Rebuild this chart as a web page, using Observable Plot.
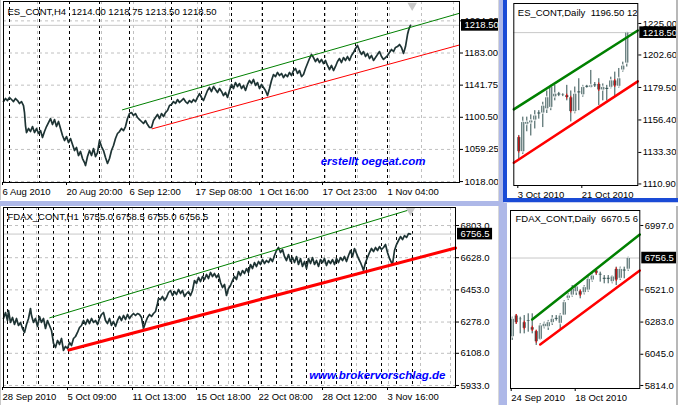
<!DOCTYPE html>
<html><head><meta charset="utf-8">
<script src="https://cdn.jsdelivr.net/npm/d3@7"></script>
<script src="https://cdn.jsdelivr.net/npm/@observablehq/plot@0.6"></script>
<style>
body{margin:0;background:#fff;}
#wrap{position:relative;width:678px;height:405px;overflow:hidden;background:#fff;}
.chrome{position:absolute;}
</style></head><body><div id="wrap"></div>
<script>
// ---------- ES_CONT H4 (top-left) ----------
const esH4Bar = [0,2,4,6,8,10,12,14,16,18,20,21,22,23,25,27,29,31,33,35,37,39,41,43,45,47,49,51,53,55,57,59,61,63,65,67,69,71,73,75,77,79,81,82,84,86,88,90,92,94,96,98,100,102,104,106,108,110,112,114,116,118,120,122,124,126,128,130,132,134,136,138,140,142,144,146,148,150,152,154,156,158,160,162,164,166,168,170,172,174,176,178,180,182,184,186,188,190,192,194,196,198,200,202,204,206,208,210,212,214,216,218,220,222,224,226,228,230,232,234,236,238,240,242,244,246,248,250,252,254,256,258,260,262,264,266,268,270,272,274,276,278,280,282,284,286,288,290,292,294,296,298,300,302,304,306,308,310,312,314,316,318,320,322,324,326,328,330,332,334,336,338,340,342,344,346,348,350,352,354,356,358,360,362,364,366,368,370,372,374,376,378,380,382,384,386,388,390,392,394,396,398,400,402,403,404,405,406,407];
const esH4Close = [1120.7,1124.6,1122.0,1125.9,1123.3,1120.7,1124.6,1122.0,1118.2,1120.7,1115.6,1106.6,1089.9,1080.9,1086.1,1082.2,1088.6,1080.9,1086.1,1079.7,1083.5,1074.5,1082.2,1088.6,1093.8,1098.9,1091.2,1097.6,1088.6,1095.1,1086.1,1077.1,1070.7,1075.8,1068.1,1073.2,1065.5,1057.8,1061.7,1051.4,1056.6,1047.6,1042.4,1038.6,1050.1,1057.8,1051.4,1060.4,1050.1,1055.3,1070.7,1063.0,1057.8,1048.9,1041.2,1047.6,1057.8,1064.3,1073.2,1079.7,1082.2,1086.1,1083.5,1088.6,1098.9,1105.3,1106.6,1102.8,1105.3,1100.2,1097.6,1095.1,1092.5,1096.3,1091.2,1087.4,1087.4,1096.3,1100.2,1104.1,1098.9,1105.3,1101.5,1106.6,1109.2,1115.6,1116.9,1120.7,1118.2,1123.3,1119.5,1122.0,1124.6,1120.7,1118.2,1122.0,1119.5,1123.3,1120.7,1125.9,1131.0,1125.9,1122.0,1128.4,1134.9,1138.7,1133.6,1140.0,1136.1,1132.3,1137.4,1133.6,1128.4,1132.3,1125.9,1134.9,1142.6,1137.4,1145.1,1140.0,1143.8,1137.4,1141.3,1134.9,1142.6,1147.7,1143.8,1149.0,1141.3,1145.1,1137.4,1142.6,1138.7,1134.9,1128.4,1137.4,1147.7,1155.4,1152.8,1158.0,1154.1,1156.7,1151.5,1155.4,1152.8,1158.0,1154.1,1160.5,1163.1,1156.7,1160.5,1152.8,1155.4,1163.1,1169.5,1175.9,1181.1,1177.2,1172.1,1175.9,1170.8,1174.7,1169.5,1173.4,1167.0,1161.8,1167.0,1160.5,1165.7,1172.1,1175.9,1170.8,1177.2,1173.4,1178.5,1173.4,1179.8,1183.6,1188.8,1192.6,1186.2,1181.1,1184.9,1178.5,1182.4,1175.9,1179.8,1173.4,1177.2,1181.1,1184.9,1178.5,1174.7,1177.2,1179.8,1183.6,1187.5,1184.9,1190.1,1191.3,1193.9,1190.1,1182.4,1191.3,1199.0,1206.7,1211.9,1215.7,1218.5];
const esH4Ticks = [1018.00,1059.25,1100.50,1141.75,1183.00,1224.25];
const esH4LabelBar = [0,64,127,193,257,320,385];
const esH4Labels = ["6 Aug 2010","20 Aug 20:00","6 Sep 12:00","17 Sep 08:00","1 Oct 16:00","17 Oct 23:00","1 Nov 04:00"];
const esH4Grid = [34,66,98,130,162,194,226,258,290,322,354,386,418,450];
const esH4Sep = [6,36,66,96,126,168,198,228,259,290,321,352,384];
const esH4GreenBar = [119,456], esH4GreenPrice = [1110.1,1234.0];
const esH4RedBar = [148.7,456], esH4RedPrice = [1085.7,1193.3];
const esH4Bid = 1218.50;
const esH4Shift = 408.7;
const esH4Header = "ES_CONT,H4\u00a0 1214.00 1218.75 1213.50 1218.50";

// ---------- FDAX_CONT H1 (bottom-left) ----------
const fdaxH1Bar = [0,2,4,5,7,9,11,13,15,17,19,21,23,25,27,28,30,32,34,36,38,40,42,44,46,48,50,52,54,56,58,60,62,64,66,68,70,72,74,76,78,80,82,84,86,88,90,92,94,96,98,100,102,104,106,108,110,112,114,116,118,120,122,124,126,128,130,132,134,136,138,140,142,144,146,148,150,152,154,155,157,159,161,163,165,167,169,171,173,175,177,179,181,183,185,187,189,191,193,195,197,199,201,203,205,207,209,211,213,215,217,219,221,223,225,227,229,231,233,235,237,239,241,243,245,247,249,251,253,255,257,259,261,263,265,267,269,271,273,275,277,279,281,283,285,287,289,291,293,295,297,299,301,303,305,307,309,311,313,315,317,319,321,323,325,327,329,331,333,335,337,339,341,343,345,347,349,351,353,355,357,359,360,362,364,366,368,370,372,374,376,378,380,382,384,386,388,389,391,393,395,397,399,401,403,405,407];
const fdaxH1Close = [6297.3,6329.9,6286.4,6340.8,6275.6,6302.8,6264.7,6297.3,6259.3,6275.6,6242.9,6221.2,6264.7,6297.3,6351.7,6313.6,6275.6,6297.3,6253.8,6308.2,6275.6,6297.3,6242.9,6286.4,6259.3,6232.1,6161.4,6139.6,6177.7,6155.9,6188.6,6123.3,6145.1,6134.2,6166.8,6150.5,6188.6,6199.4,6221.2,6248.4,6259.3,6286.4,6264.7,6291.9,6270.1,6297.3,6275.6,6286.4,6264.7,6297.3,6319.1,6329.9,6286.4,6270.1,6297.3,6259.3,6281.0,6253.8,6286.4,6308.2,6286.4,6313.6,6291.9,6319.1,6297.3,6313.6,6324.5,6313.6,6324.5,6319.1,6302.8,6242.9,6275.6,6302.8,6319.1,6308.2,6324.5,6335.4,6378.9,6406.1,6400.6,6416.9,6395.2,6411.5,6438.7,6449.6,6422.4,6444.1,6427.8,6455.0,6433.3,6449.6,6416.9,6433.3,6444.1,6422.4,6449.6,6503.9,6487.6,6520.3,6498.5,6525.7,6509.4,6536.6,6514.8,6547.5,6525.7,6542.0,6520.3,6536.6,6493.1,6465.9,6482.2,6422.4,6460.4,6476.8,6503.9,6525.7,6509.4,6552.9,6531.1,6558.3,6542.0,6569.2,6547.5,6591.0,6569.2,6601.8,6580.1,6607.3,6591.0,6618.1,6596.4,6612.7,6601.8,6623.6,6607.3,6639.9,6667.1,6683.4,6656.2,6672.5,6634.5,6612.7,6645.3,6607.3,6629.0,6601.8,6634.5,6591.0,6623.6,6580.1,6607.3,6569.2,6623.6,6596.4,6629.0,6591.0,6612.7,6580.1,6618.1,6601.8,6623.6,6585.5,6612.7,6596.4,6618.1,6591.0,6623.6,6601.8,6629.0,6612.7,6634.5,6607.3,6639.9,6667.1,6634.5,6678.0,6650.8,6623.6,6601.8,6574.6,6558.3,6601.8,6629.0,6656.2,6678.0,6661.6,6683.4,6667.1,6688.8,6672.5,6683.4,6699.7,6656.2,6623.6,6601.8,6591.0,6667.1,6699.7,6721.5,6743.2,6726.9,6748.6,6737.8,6759.5,6756.5];
const fdaxH1Ticks = [5933.0,6108.0,6278.0,6453.0,6628.0,6803.0];
const fdaxH1LabelBar = [0,65,130,194,256,320,385];
const fdaxH1Labels = ["28 Sep 2010","5 Oct 09:00","11 Oct 13:00","15 Oct 18:00","22 Oct 08:00","28 Oct 12:00","3 Nov 16:00"];
const fdaxH1Grid = [33,65,97,129,161,193,225,257,289,321,353,385,417,447];
const fdaxH1Sep = [4,20,35,50,65,80,95,110,125,140,155,170,185,200,215,230,245,258,273,288,303,318,333,348,363,378,393,409];
const fdaxH1GreenBar = [46.3,403.7], fdaxH1GreenPrice = [6301.1,6884.6];
const fdaxH1RedBar = [65.3,452], fdaxH1RedPrice = [6126.0,6680.7];
const fdaxH1Bid = 6756.5;
const fdaxH1Shift = 407;
const fdaxH1Header = "FDAX_CONT,H1\u00a0 6755.0 6758.5 6755.0 6756.5";

// ---------- ES_CONT Daily (top-right) ----------
const esDOpen  = [1144.2,1133.5,1153.0,1154.0,1156.0,1161.0,1161.0,1164.0,1165.0,1172.5,1174.5,1174.5,1174.0,1172.5,1162.0,1176.0,1174.0,1180.0,1179.3,1181.0,1182.0,1177.4,1178.5,1179.3,1184.5,1180.0,1191.6,1196.5];
const esDHigh  = [1145.4,1158.4,1158.4,1160.0,1163.0,1163.0,1169.0,1177.0,1181.0,1181.0,1176.0,1175.0,1181.0,1177.0,1179.8,1185.7,1181.0,1181.0,1191.6,1183.0,1185.7,1182.0,1181.0,1186.8,1190.4,1193.0,1197.5,1218.75];
const esDLow   = [1127.6,1131.9,1148.0,1145.0,1150.0,1157.0,1151.0,1161.0,1163.0,1170.0,1173.0,1173.0,1170.0,1155.0,1160.8,1163.0,1172.6,1179.0,1179.0,1179.5,1166.7,1170.0,1170.0,1178.5,1172.6,1179.0,1190.4,1194.0];
const esDClose = [1133.5,1154.9,1155.0,1156.0,1159.5,1161.0,1166.5,1172.5,1179.8,1175.0,1174.5,1174.0,1172.0,1162.0,1175.0,1176.0,1179.8,1180.0,1181.0,1181.0,1177.4,1179.8,1178.5,1184.5,1180.2,1186.0,1195.0,1218.5];
const esDTicks = [1110.90,1133.30,1156.40,1179.50,1202.60,1225.00];
const esDLabelBar = [0,16];
const esDLabels = ["3 Oct 2010","21 Oct 2010"];
const esDGreenBar = [-1.25,29.75], esDGreenPrice = [1163.9,1220.0];
const esDRedBar = [-1.25,29.75], esDRedPrice = [1126.0,1183.8];
const esDBid = 1218.50;
const esDHeader = "ES_CONT,Daily\u00a0 1196.50 12";

// ---------- FDAX_CONT Daily (bottom-right) ----------
const fdaxDOpen  = [6171,6331.6,6305,6282,6290,6245,6216,6152,6245,6245,6275,6300,6270,6331,6455,6479,6504,6511,6497,6516,6590,6664,6627,6603,6603,6578,6676,6603,6664,6670.5];
const fdaxDHigh  = [6319,6339,6319,6331,6344,6344,6221,6270,6282,6295,6331,6331,6344,6442,6492,6553,6553,6521,6553,6615,6640,6676,6652,6627,6627,6627,6689,6689,6689,6763];
const fdaxDLow   = [6147,6265,6196,6196,6208,6196,6110,6147,6233,6221,6258,6290,6221,6331,6442,6467,6479,6455,6484,6504,6578,6627,6578,6566,6566,6566,6553,6590,6603,6658];
const fdaxDClose = [6307,6275,6300,6233,6293,6220,6134,6258,6270,6282,6307,6314,6331,6430,6479,6529,6546,6479,6541,6602,6627,6640,6640,6603,6603,6620,6590,6676,6664,6756.5];
const fdaxDTicks = [5814.0,6045.0,6283.0,6521.0,6997.0];
const fdaxDLabelBar = [0,16];
const fdaxDLabels = ["24 Sep 2010","18 Oct 2010"];
const fdaxDGreenBar = [5,31.9], fdaxDGreenPrice = [6302,6930.5];
const fdaxDRedBar = [7,31.9], fdaxDRedPrice = [6117,6664.3];
const fdaxDBid = 6756.5;
const fdaxDHeader = "FDAX_CONT,Daily\u00a0 6670.5 6";

const wmTop = "erstellt oegeat.com";
const wmBottom = "www.brokervorschlag.de";

// ---------- helpers ----------
const wrap = document.getElementById("wrap");
const FONT = '"Liberation Sans", Arial, Helvetica, sans-serif';
const DARK = "#2f4f4f";
const LINE = "#1e3434";
const GRID = "#c0c0c0";
const BIDTEXT = "#fffffe";
const pts = (xs, ys) => xs.map((x, i) => ({x, y: ys[i]}));

function mount(svg, left, top) {
  svg.style.position = "absolute";
  svg.style.left = left + "px";
  svg.style.top = top + "px";
  wrap.appendChild(svg);
  svg.querySelectorAll('g[fill="' + BIDTEXT + '"] text').forEach(t => {
    const b = t.getBBox();
    const r = document.createElementNS("http://www.w3.org/2000/svg", "rect");
    r.setAttribute("x", b.x - 3.5);
    r.setAttribute("y", b.y - 0.3);
    r.setAttribute("width", b.width + 6);
    r.setAttribute("height", b.height + 0.6);
    r.setAttribute("fill", "black");
    if (t.getAttribute("transform")) r.setAttribute("transform", t.getAttribute("transform"));
    t.parentNode.insertBefore(r, t);
  });
}

function candleMarks(O, H, L, C, minBody) {
  const data = O.map((o, i) => ({b: i, o, h: H[i], l: L[i], c: C[i]}));
  const bull = data.filter(d => d.c >= d.o && d.c - d.o > minBody);
  const bear = data.filter(d => d.c < d.o && d.o - d.c > minBody);
  return [
    Plot.ruleX(data, {x: "b", y1: "l", y2: "h", stroke: DARK}),
    Plot.ruleX(data, {x: "b", y1: d => Math.min(d.o, d.c), y2: d => Math.max(d.o, d.c), stroke: DARK, strokeWidth: 3, insetTop: -0.5, insetBottom: -0.5}),
    Plot.ruleX(bull, {x: "b", y1: "o", y2: "c", stroke: "white", strokeWidth: 1, insetTop: 1, insetBottom: 1}),
    Plot.ruleX(bear, {x: "b", y1: "c", y2: "o", stroke: "red", strokeWidth: 1, insetTop: 1, insetBottom: 1})
  ];
}

function axes(yTicks, yDigits, xBars, xLabels) {
  const lab = new Map(xBars.map((b, i) => [b, xLabels[i]]));
  return [
    Plot.frame({stroke: "black"}),
    Plot.axisY(yTicks, {anchor: "right", tickSize: 3, tickPadding: 2, tickFormat: d => d.toFixed(yDigits), label: null, fill: "black", stroke: "black"}),
    Plot.axisX(xBars, {anchor: "bottom", tickSize: 3, tickPadding: 3, tickFormat: d => lab.get(d), textAnchor: "start", dx: -1, label: null, fill: "black", stroke: "black"})
  ];
}

function header(txt, dx, dy) {
  return Plot.text([txt], {text: d => d, frameAnchor: "top-left", textAnchor: "start", lineAnchor: "top", dx, dy, fontSize: 9.5, fill: "black", clip: true});
}

function bidLabel(v, digits) {
  return Plot.text([v], {y: d => d, text: d => d.toFixed(digits), frameAnchor: "right", textAnchor: "start", dx: 5, fontSize: 9.5, fill: BIDTEXT});
}

const style = {background: "transparent", color: "black", fontFamily: FONT, fontSize: "9.5px", overflow: "visible"};

// ---------- top-left ----------
mount(Plot.plot({
  width: 498, height: 200, marginLeft: 3, marginRight: 39, marginTop: 1, marginBottom: 18,
  x: {domain: [0, 456]}, y: {domain: [1016.8, 1249.1]}, style,
  marks: [
    Plot.ruleY(esH4Ticks, {stroke: GRID, strokeDasharray: "3,3"}),
    Plot.ruleX(esH4Grid, {stroke: GRID, strokeDasharray: "3,3"}),
    Plot.ruleX(esH4Sep, {stroke: "black", strokeDasharray: "3,3"}),
    Plot.ruleY([esH4Bid], {stroke: "#c8c8c8"}),
    Plot.line(pts(esH4Bar, esH4Close), {x: "x", y: "y", stroke: LINE, strokeWidth: 1.7}),
    Plot.line(pts(esH4GreenBar, esH4GreenPrice), {x: "x", y: "y", stroke: "#008000", strokeWidth: 1}),
    Plot.line(pts(esH4RedBar, esH4RedPrice), {x: "x", y: "y", stroke: "#ff0000", strokeWidth: 1}),
    Plot.dot([esH4Shift], {x: d => d, frameAnchor: "top", dy: 4, symbol: "triangle", rotate: 180, r: 3.5, fill: "#c8c8c8", stroke: "none"}),
    ...axes(esH4Ticks, 2, esH4LabelBar, esH4Labels),
    header(esH4Header, 4, 7),
    Plot.text([wmTop], {text: d => d, frameAnchor: "bottom-right", textAnchor: "end", lineAnchor: "middle", dx: -34, dy: -21, fill: "#0000ff", fontWeight: "bold", fontStyle: "italic", fontSize: 11.5}),
    bidLabel(esH4Bid, 2)
  ]
}), 0, 0);

// ---------- bottom-left ----------
mount(Plot.plot({
  width: 498, height: 199, marginLeft: 3, marginRight: 43, marginTop: 1, marginBottom: 18,
  x: {domain: [0, 452]}, y: {domain: [5922, 6901]}, style,
  marks: [
    Plot.ruleY(fdaxH1Ticks, {stroke: GRID, strokeDasharray: "3,3"}),
    Plot.ruleX(fdaxH1Grid, {stroke: GRID, strokeDasharray: "3,3"}),
    Plot.ruleX(fdaxH1Sep, {stroke: "black", strokeDasharray: "3,3"}),
    Plot.ruleY([fdaxH1Bid], {stroke: "#c8c8c8"}),
    Plot.line(pts(fdaxH1Bar, fdaxH1Close), {x: "x", y: "y", stroke: LINE, strokeWidth: 1.7}),
    Plot.line(pts(fdaxH1GreenBar, fdaxH1GreenPrice), {x: "x", y: "y", stroke: "#008000", strokeWidth: 1}),
    Plot.line(pts(fdaxH1RedBar, fdaxH1RedPrice), {x: "x", y: "y", stroke: "#ff0000", strokeWidth: 3}),
    Plot.dot([fdaxH1Shift], {x: d => d, frameAnchor: "top", dy: 3, symbol: "triangle", rotate: 180, r: 3.5, fill: "#c8c8c8", stroke: "none"}),
    ...axes(fdaxH1Ticks, 1, fdaxH1LabelBar, fdaxH1Labels),
    header(fdaxH1Header, 4, 5.5),
    Plot.text([wmBottom], {text: d => d, frameAnchor: "bottom-right", textAnchor: "end", lineAnchor: "middle", dx: -10, dy: -12, fill: "#0000ff", fontWeight: "bold", fontStyle: "italic", fontSize: 11.5}),
    bidLabel(fdaxH1Bid, 1)
  ]
}), 0, 206);

// ---------- top-right ----------
mount(Plot.plot({
  width: 171, height: 198, marginLeft: 6.3, marginRight: 40.7, marginTop: 3, marginBottom: 13,
  x: {domain: [-1.25, 29.75]}, y: {domain: [1109.8, 1239.2]}, style,
  marks: [
    Plot.ruleY([esDBid], {stroke: "#c8c8c8"}),
    ...candleMarks(esDOpen, esDHigh, esDLow, esDClose, 1.5),
    Plot.line(pts(esDGreenBar, esDGreenPrice), {x: "x", y: "y", stroke: "#008000", strokeWidth: 2.5}),
    Plot.line(pts(esDRedBar, esDRedPrice), {x: "x", y: "y", stroke: "#ff0000", strokeWidth: 2.5}),
    ...axes(esDTicks, 2, esDLabelBar, esDLabels),
    header(esDHeader, 4, 6),
    bidLabel(esDBid, 2)
  ]
}), 507, 0);

// ---------- bottom-right ----------
mount(Plot.plot({
  width: 171, height: 199, marginLeft: 3, marginRight: 38.7, marginTop: 4, marginBottom: 17,
  x: {domain: [-0.425, 31.9]}, y: {domain: [5791.8, 7107.9]}, style,
  marks: [
    Plot.ruleY([fdaxDBid], {stroke: "#c8c8c8"}),
    ...candleMarks(fdaxDOpen, fdaxDHigh, fdaxDLow, fdaxDClose, 15),
    Plot.line(pts(fdaxDGreenBar, fdaxDGreenPrice), {x: "x", y: "y", stroke: "#008000", strokeWidth: 2.5}),
    Plot.line(pts(fdaxDRedBar, fdaxDRedPrice), {x: "x", y: "y", stroke: "#ff0000", strokeWidth: 2.5}),
    ...axes(fdaxDTicks, 1, fdaxDLabelBar, fdaxDLabels),
    header(fdaxDHeader, 5, 5),
    bidLabel(fdaxDBid, 1)
  ]
}), 507, 206);

// ---------- window chrome ----------
function box(l, t, w, h, c) {
  const d = document.createElement("div");
  d.className = "chrome";
  Object.assign(d.style, {left: l + "px", top: t + "px", width: w + "px", height: h + "px", background: c});
  wrap.appendChild(d);
}
box(498, 0, 1, 405, "#d8d8d8");
box(499, 0, 5, 405, "#aeb8e8");
box(0, 201, 504, 5, "#aeb8e8");
box(504, 203, 3, 202, "#aeb8e8");
box(504, 201, 174, 2, "#c9d0f0");
box(503, 0, 4, 202, "#1a4bd6");
box(503, 198, 175, 4, "#1a4bd6");
box(676, 0, 2, 198, "#b8b8b8");
box(676, 206, 2, 199, "#b8b8b8");
box(0, 0, 1, 200, "#c8c8c8");
box(0, 206, 1, 199, "#c8c8c8");
</script></body></html>
